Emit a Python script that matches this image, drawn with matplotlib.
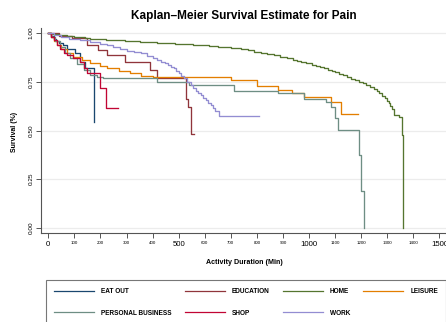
import matplotlib
matplotlib.use('Agg')
import matplotlib.pyplot as plt

plt.rcParams['font.family'] = ['Liberation Sans', 'DejaVu Sans']

# Kaplan-Meier step estimates per activity type (duration in minutes, survival)
eat_out_t = [0, 10, 20, 30, 42, 55, 73, 104, 123, 142, 174]
eat_out_s = [1.0, 0.985, 0.97, 0.96, 0.95, 0.94, 0.92, 0.896, 0.853, 0.82, 0.545]

education_t = [0, 40, 90, 149, 192, 226, 296, 389, 418, 527, 535, 546, 558]
education_s = [1.0, 0.985, 0.975, 0.94, 0.913, 0.887, 0.853, 0.81, 0.77, 0.66, 0.622, 0.48, 0.48]

home_t = [0, 10, 25, 40, 55, 70, 85, 100, 120, 140, 160, 180, 200, 220, 245, 270, 295,
          320, 350, 380, 415, 450, 485, 520, 555, 585, 615, 650, 675, 700, 720, 740,
          765, 790, 815, 840, 865, 890, 915, 940, 955, 970, 990, 1010, 1025, 1040, 1056,
          1072, 1086, 1100, 1115, 1130, 1145, 1160, 1175, 1190, 1205, 1220, 1235, 1250,
          1260, 1270, 1280, 1290, 1298, 1305, 1312, 1318, 1325, 1345, 1355, 1362]
home_s = [1.0, 0.997, 0.994, 0.991, 0.988, 0.985, 0.983, 0.98, 0.978, 0.975, 0.972,
          0.97, 0.968, 0.966, 0.964, 0.962, 0.96, 0.958, 0.955, 0.953, 0.95, 0.948, 0.946,
          0.943, 0.941, 0.938, 0.934, 0.931, 0.928, 0.925, 0.922, 0.918, 0.911, 0.905,
          0.899, 0.893, 0.886, 0.878, 0.871, 0.864, 0.858, 0.853, 0.845, 0.838, 0.832,
          0.827, 0.819, 0.81, 0.804, 0.798, 0.791, 0.783, 0.774, 0.765, 0.758, 0.75,
          0.743, 0.735, 0.725, 0.715, 0.703, 0.69, 0.678, 0.665, 0.652, 0.64, 0.625,
          0.61, 0.578, 0.57, 0.477, 0.0]

leisure_t = [0, 10, 20, 35, 50, 70, 96, 130, 161, 200, 226, 270, 315, 354, 400, 700,
             800, 880, 935, 981, 1085, 1123, 1188]
leisure_s = [1.0, 0.98, 0.96, 0.94, 0.92, 0.9, 0.878, 0.86, 0.845, 0.83, 0.819, 0.805,
             0.793, 0.78, 0.772, 0.759, 0.728, 0.708, 0.69, 0.673, 0.645, 0.585, 0.585]

personal_t = [0, 10, 25, 45, 65, 85, 110, 135, 160, 185, 210, 418, 540, 712, 880, 981,
              1065, 1085, 1100, 1110, 1193, 1200, 1212]
personal_s = [1.0, 0.98, 0.96, 0.93, 0.9, 0.87, 0.84, 0.81, 0.785, 0.772, 0.767, 0.75,
              0.733, 0.704, 0.69, 0.66, 0.645, 0.62, 0.563, 0.503, 0.374, 0.19, 0.0]

shop_t = [0, 10, 20, 35, 46, 60, 72, 96, 120, 135, 149, 200, 221, 268]
shop_s = [1.0, 0.98, 0.965, 0.94, 0.92, 0.9, 0.887, 0.87, 0.85, 0.82, 0.793, 0.716, 0.617, 0.617]

work_t = [0, 20, 50, 80, 120, 160, 200, 225, 250, 275, 300, 330, 354, 380, 400, 415, 431,
          446, 460, 471, 481, 490, 500, 510, 519, 533, 546, 556, 565, 575, 585, 595, 605,
          614, 623, 632, 640, 654, 808]
work_s = [1.0, 0.99, 0.98, 0.972, 0.962, 0.953, 0.945, 0.937, 0.928, 0.919, 0.91, 0.903,
          0.896, 0.884, 0.873, 0.863, 0.853, 0.844, 0.835, 0.827, 0.819, 0.807, 0.795,
          0.781, 0.767, 0.75, 0.733, 0.719, 0.705, 0.694, 0.682, 0.668, 0.655, 0.642,
          0.63, 0.615, 0.6, 0.575, 0.575]

labels = ['EAT OUT', 'EDUCATION', 'HOME', 'LEISURE', 'PERSONAL BUSINESS', 'SHOP', 'WORK']
times = [eat_out_t, education_t, home_t, leisure_t, personal_t, shop_t, work_t]
survival = [eat_out_s, education_s, home_s, leisure_s, personal_s, shop_s, work_s]
colors = ['#1a476f', '#90353b', '#55752f', '#e37e00', '#6e8e84', '#c10534', '#938dd2']

fig = plt.figure(figsize=(4.46, 3.22), dpi=100)
ax = fig.add_axes([41 / 446, (322 - 233) / 322, 405 / 446, 205 / 322])

lines = []
for t, s, c, lab in zip(times, survival, colors, labels):
    ln, = ax.step(t, s, where='post', color=c, lw=0.95, label=lab)
    lines.append(ln)

ax.set_xlim(-28, 1525)
ax.set_ylim(-0.026, 1.026)
ax.set_yticks([0, 0.25, 0.5, 0.75, 1.0])
ax.set_yticklabels(['0.00', '0.25', '0.50', '0.75', '1.00'], rotation=90, va='center', fontsize=4.6)
ax.set_xticks([0, 500, 1000, 1500])
ax.set_xticklabels(['0', '500', '1000', '1500'], fontsize=5.6)
ax.set_xticks(range(100, 1500, 100), minor=True)
ax.set_xticklabels([str(v) if v % 500 else '' for v in range(100, 1500, 100)], minor=True, fontsize=3.2)
ax.tick_params(axis='x', which='both', length=3.5, width=0.7, color='#555555', pad=2)
ax.tick_params(axis='y', length=3.5, width=0.7, color='#555555', pad=2)
ax.tick_params(axis='x', which='minor', pad=2.5)
ax.grid(axis='y', color='#ececec', lw=0.9)
ax.set_axisbelow(True)
for side in ['top', 'right']:
    ax.spines[side].set_visible(False)
for side in ['left', 'bottom']:
    ax.spines[side].set_color('#555555')
    ax.spines[side].set_linewidth(0.8)

fig.text(244 / 446, 1 - 16.5 / 322, 'Kaplan\u2013Meier Survival Estimate for Pain',
         ha='center', va='center', fontsize=8.5, fontweight='bold')
fig.text(244 / 446, 1 - 262 / 322, 'Activity Duration (Min)', ha='center', va='center',
         fontsize=5.1, fontweight='bold')
fig.text(14.5 / 446, 1 - 132 / 322, 'Survival (%)', ha='center', va='center', rotation=90,
         fontsize=5.0, fontweight='bold')

# legend filled column-wise, so reorder to read across rows
order = [0, 4, 1, 5, 2, 6, 3]
leg = fig.legend([lines[i] for i in order], [labels[i] for i in order], ncol=4,
                 loc='upper left', bbox_to_anchor=(46 / 446, 1 - 280 / 322),
                 prop={'size': 4.7, 'weight': 'bold'}, frameon=True, fancybox=False,
                 handlelength=6.1, handletextpad=1.1, columnspacing=2.0,
                 labelspacing=2.2, borderpad=1.25, borderaxespad=0)
leg.get_frame().set_edgecolor('#555555')
leg.get_frame().set_linewidth(0.8)
for h in leg.get_lines():
    h.set_linewidth(0.9)

fig.savefig('out.png', dpi=100)
